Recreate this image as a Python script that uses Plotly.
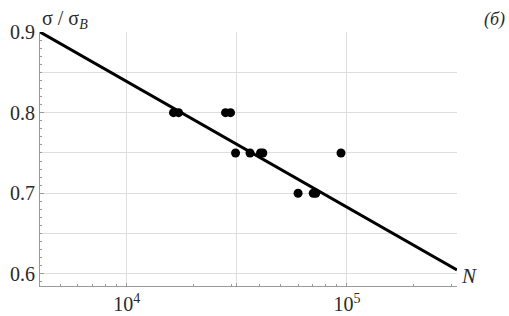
import numpy as np
import plotly.graph_objects as go

# Experimental points: cycles to failure N, relative stress sigma/sigma_B
pts_N = [16300, 17200, 28100, 29600, 31200, 36300, 40500, 41500, 60000, 70300, 72200, 94000]
pts_sigma = [0.80, 0.80, 0.80, 0.80, 0.75, 0.75, 0.75, 0.75, 0.70, 0.70, 0.70, 0.75]

# Fitted fatigue line endpoints
line_N = [4036, 316228]
line_sigma = [0.90, 0.605]

y_ticks = [0.6, 0.65, 0.7, 0.75, 0.8, 0.85, 0.9]
y_labels = ["0.6", "", "0.7", "", "0.8", "", "0.9"]
x_ticks = [1e4, 10**4.5, 1e5, 10**5.5]
x_labels = ["10<sup>4</sup>", "", "10<sup>5</sup>", ""]

x_minor = [m * 10**k for k in (3, 4, 5) for m in range(2, 10)]
y_minor = [round(0.59 + 0.01 * i, 2) for i in range(32)]

FF = "Liberation Serif"
txt = "#2a2a2a"
axis_col = "#9a9a9a"
grid_col = "#dedede"

fig = go.Figure()
fig.add_trace(go.Scatter(x=line_N, y=line_sigma, mode="lines",
                         line=dict(color="black", width=3), showlegend=False))
fig.add_trace(go.Scatter(x=pts_N, y=pts_sigma, mode="markers",
                         marker=dict(color="black", size=9), showlegend=False))

fig.update_layout(
    width=509, height=316,
    margin=dict(l=40, r=52, t=32, b=30, autoexpand=False),
    paper_bgcolor="white", plot_bgcolor="white",
    font=dict(family=FF, color=txt, size=20),
    xaxis=dict(type="log", range=[np.log10(4036), 5.5], automargin=False,
               tickmode="array", tickvals=x_ticks, ticktext=x_labels,
               ticks="inside", ticklen=3, tickcolor=axis_col,
               showgrid=True, gridcolor=grid_col, gridwidth=1,
               showline=True, linecolor=axis_col, linewidth=1,
               zeroline=False,
               minor=dict(tickmode="array", tickvals=x_minor, ticks="inside",
                          ticklen=2, tickcolor=axis_col, showgrid=False),
               tickfont=dict(size=20, family=FF, color=txt)),
    yaxis=dict(range=[0.585, 0.9], automargin=False,
               tickmode="array", tickvals=y_ticks, ticktext=y_labels,
               ticks="inside", ticklen=4, tickcolor=axis_col,
               showgrid=True, gridcolor=grid_col, gridwidth=1,
               showline=True, linecolor=axis_col, linewidth=1,
               zeroline=False,
               minor=dict(tickmode="array", tickvals=y_minor, ticks="inside",
                          ticklen=2, tickcolor=axis_col, showgrid=False),
               tickfont=dict(size=20, family=FF, color=txt)),
    annotations=[
        dict(text="σ / σ<sub><i>B</i></sub>", xref="paper", yref="paper",
             x=0.0, y=1.0, xanchor="left", yanchor="bottom", yshift=-2,
             showarrow=False, font=dict(size=20, family=FF, color=txt)),
        dict(text="<i>N</i>", xref="paper", yref="paper",
             x=1.0, y=0.0, xanchor="left", yanchor="bottom", xshift=2, yshift=-4,
             showarrow=False, font=dict(size=21, family=FF, color=txt)),
        dict(text="<i>(б)</i>", xref="paper", yref="paper",
             x=1.0, y=1.0, xanchor="right", yanchor="bottom",
             xshift=50, yshift=0,
             showarrow=False, font=dict(size=18, family=FF, color=txt)),
    ],
)

fig.write_html("out.html", config={"displayModeBar": False},
               post_script="document.body.style.margin='0';")
